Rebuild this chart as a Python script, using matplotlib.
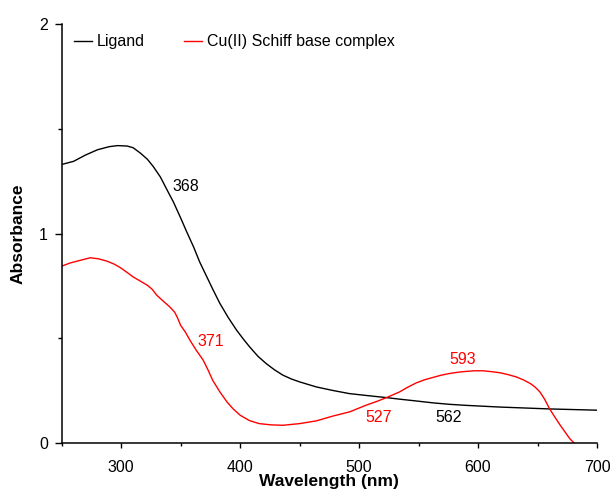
import matplotlib
matplotlib.use("Agg")
import matplotlib.pyplot as plt
from matplotlib.ticker import MultipleLocator

plt.rcParams["font.family"] = ["Liberation Sans", "DejaVu Sans"]

# Ligand spectrum (wavelength nm, absorbance)
ligand_wl = [250, 260, 270, 280, 290, 297, 305, 310, 316, 322, 327, 333, 338, 344,
             350, 355, 361, 366, 372, 377, 383, 390, 397, 403, 408, 415, 422, 429,
             436, 443, 450, 464, 478, 492, 508, 523, 535, 548, 562, 576, 590, 604,
             618, 632, 646, 660, 680, 700]
ligand_abs = [1.33, 1.345, 1.375, 1.40, 1.415, 1.42, 1.418, 1.41, 1.385, 1.355, 1.32,
              1.27, 1.215, 1.15, 1.075, 1.01, 0.935, 0.865, 0.794, 0.735, 0.667, 0.60,
              0.54, 0.495, 0.46, 0.415, 0.38, 0.35, 0.325, 0.307, 0.293, 0.269, 0.252,
              0.237, 0.227, 0.218, 0.21, 0.202, 0.193, 0.186, 0.181, 0.177, 0.173,
              0.170, 0.167, 0.164, 0.161, 0.158]

# Cu(II) Schiff base complex spectrum
complex_wl = [250, 257, 265, 274, 281, 288, 294, 299, 305, 310, 316, 322, 326, 330,
              335, 341, 345, 347, 350, 354, 358, 363, 369, 373, 377, 383, 389, 394,
              400, 408, 416, 426, 436, 450, 464, 478, 492, 506, 515, 523, 534, 541,
              548, 555, 562, 569, 576, 583, 590, 597, 604, 611, 618, 625, 632, 638,
              644, 648, 652, 656, 660, 664, 669, 673, 677, 681, 682.5]
complex_abs = [0.845, 0.86, 0.872, 0.885, 0.88, 0.869, 0.855, 0.839, 0.815, 0.794,
               0.774, 0.754, 0.735, 0.706, 0.68, 0.65, 0.625, 0.603, 0.563, 0.53,
               0.49, 0.445, 0.396, 0.35, 0.30, 0.245, 0.197, 0.165, 0.134, 0.108,
               0.094, 0.088, 0.086, 0.094, 0.107, 0.13, 0.15, 0.182, 0.20, 0.218,
               0.245, 0.268, 0.288, 0.303, 0.314, 0.325, 0.333, 0.339, 0.343, 0.346,
               0.346, 0.342, 0.337, 0.328, 0.317, 0.303, 0.285, 0.268, 0.245, 0.21,
               0.166, 0.13, 0.087, 0.055, 0.023, 0.0, -0.01]

# peak annotations: (text, wavelength, absorbance, colour)
peak_labels = [("368", 354.6, 1.223, "black"),
               ("371", 375.5, 0.484, "red"),
               ("527", 516.7, 0.123, "red"),
               ("562", 575.5, 0.121, "black"),
               ("593", 587.5, 0.40, "red")]

fig = plt.figure(figsize=(6.12, 4.94), dpi=100)
ax = fig.add_axes([0.1008, 0.1026, 0.8747, 0.8488])

ax.plot(ligand_wl, ligand_abs, color="black", lw=1.0, label="Ligand")
ax.plot(complex_wl, complex_abs, color="red", lw=1.0, label="Cu(II) Schiff base complex")

for txt, x, y, c in peak_labels:
    ax.text(x, y, txt, color=c, fontsize=11.5, ha="center", va="center")

ax.set_xlim(250, 700)
ax.set_ylim(0, 2)
ax.xaxis.set_major_locator(MultipleLocator(100))
ax.xaxis.set_minor_locator(MultipleLocator(50))
ax.yaxis.set_major_locator(MultipleLocator(1))
ax.yaxis.set_minor_locator(MultipleLocator(0.5))
ax.set_xticks([300, 400, 500, 600, 700])

for s in ["top", "right"]:
    ax.spines[s].set_visible(False)
for s in ["left", "bottom"]:
    ax.spines[s].set_linewidth(1.1)

ax.tick_params(axis="x", which="major", length=3.8, width=1.0, labelsize=11.5, pad=8)
ax.tick_params(axis="x", which="minor", length=2.3, width=1.0)
ax.tick_params(axis="y", which="major", length=5, width=1.0, labelsize=11.5, pad=5)
ax.tick_params(axis="y", which="minor", length=3, width=1.0)

ax.set_xlabel("Wavelength (nm)", fontsize=12.5, fontweight="bold")
ax.set_ylabel("Absorbance", fontsize=12.5, fontweight="bold")
ax.xaxis.set_label_coords(0.5, -0.074)
ax.yaxis.set_label_coords(-0.068, 0.5)

ax.legend(loc="upper left", bbox_to_anchor=(0.023, 0.975), ncol=2, frameon=False,
          fontsize=11.5, handlelength=1.1, handletextpad=0.3, columnspacing=2.5,
          borderpad=0, borderaxespad=0)

fig.savefig("out.png", dpi=100)
